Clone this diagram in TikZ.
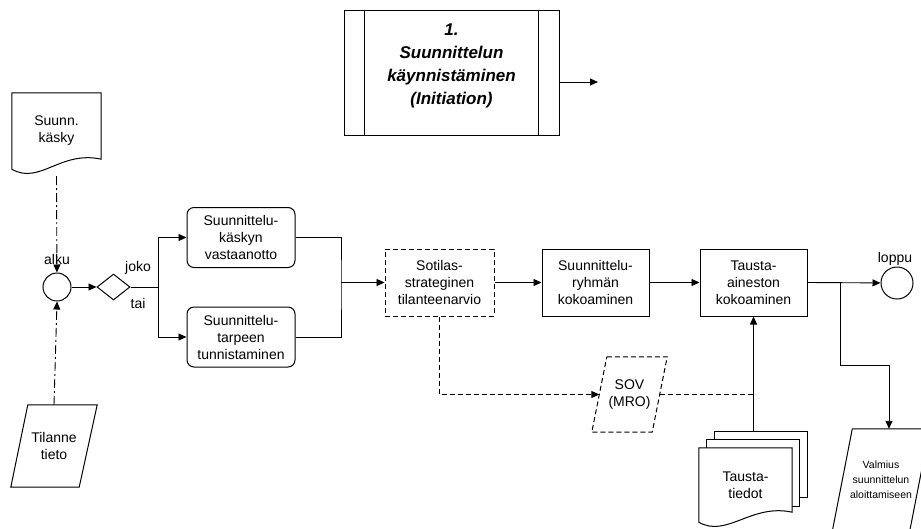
\documentclass[tikz,border=0pt]{standalone}
\usepackage{fontspec}
\setmainfont{Liberation Sans}
\usetikzlibrary{shapes.geometric,arrows.meta,calc}

\begin{document}
\begin{tikzpicture}[x=1pt,y=-1pt,
  txt/.style={align=center,inner sep=0pt,font=\fontsize{14}{17}\selectfont},
  box/.style={txt,rectangle,draw,line width=1pt,minimum width=107,minimum height=67},
  rbox/.style={box,rounded corners=7pt,minimum width=108,minimum height=60},
  dbox/.style={box,dash pattern=on 5pt off 3pt},
  shp/.style={line width=1pt},
  term/.style={circle,draw,line width=1pt,inner sep=0pt},
  conn/.style={line width=0.9pt},
  arr/.style={conn,-{Triangle[length=8pt,width=7pt]}},
  dda/.style={arr,dash pattern=on 9pt off 3pt on 2pt off 3pt},
  dsh/.style={conn,dash pattern=on 5pt off 3pt}]
\useasboundingbox (0,0) rectangle (921,528);
\clip (0,0) rectangle (921,528);
% title process
\node[rectangle,draw,line width=1pt,minimum width=215,minimum height=125] (init) at (451.5,72.5) {};
\node[align=center,font=\fontsize{17}{23}\selectfont\bfseries\itshape] (initt) at (451.5,66) {1.\\Suunnittelun\\käynnistäminen\\(Initiation)};
\draw[shp] ($(init.north west)+(21,0)$) -- ($(init.south west)+(21,0)$);
\draw[shp] ($(init.north east)+(-21,0)$) -- ($(init.south east)+(-21,0)$);
\coordinate (initout) at (598,82);
\draw[arr] (initout -| init.east) -- (initout);
% inputs
\node[txt,minimum width=89,minimum height=76] (kasky) at (56.5,131) {Suunn.\\käsky};
\draw[shp] (kasky.north west) -- (kasky.north east) -- ($(kasky.south east)+(0,-10)$) .. controls +(-41,-9) and +(28,16) .. (kasky.south west) -- cycle;
\node[txt,minimum width=86,minimum height=82] (tilanne) at (54,446) {Tilanne\\tieto};
\draw[shp] ($(tilanne.north west)+(17,0)$) -- (tilanne.north east) -- ($(tilanne.south east)+(-18,0)$) -- (tilanne.south west) -- cycle;
% start, branch
\node[term,minimum size=28] (alku) at (57,287) {};
\node[txt] (alkut) at (57,259) {alku};
\node[diamond,draw,line width=1pt,inner sep=0pt,minimum width=33,minimum height=26] (dia) at (113.5,287) {};
\node[txt] (joko) at (138,268) {joko};
\node[txt] (tai) at (138,303) {tai};
\coordinate (split) at (158,287);
\node[rbox] (b1) at (241,237.5) {Suunnittelu-\\käskyn\\vastaanotto};
\node[rbox] (b2) at (241,337) {Suunnittelu-\\tarpeen\\tunnistaminen};
\coordinate (merge) at (341,282.5);
% main row
\node[dbox,minimum width=109] (sot) at (439.5,282.5) {Sotilas-\\strateginen\\tilanteenarvio};
\node[box] (ryh) at (595.5,282.5) {Suunnittelu-\\ryhmän\\kokoaminen};
\node[box] (taus) at (753.5,282.5) {Tausta-\\aineston\\kokoaminen};
\node[term,minimum size=32] (loppu) at (897,283) {};
\node[txt] (lopput) at (895,259) {loppu};
% SOV
\node[txt,minimum width=75,minimum height=75] (sov) at (629.5,394.5) {SOV\\(MRO)};
\draw[shp,dash pattern=on 5pt off 3pt] ($(sov.north west)+(15,0)$) -- (sov.north east) -- ($(sov.south east)+(-15,0)$) -- (sov.south west) -- cycle;
% documents
\node[txt,minimum width=93,minimum height=74] (td) at (745.5,485) {Tausta-\\tiedot};
\draw[shp] ($(td.north west)+(16,-8)$) -- ++(0,-8) -- ++(93,0) -- ++(0,66) -- ++(-8,0);
\draw[shp] ($(td.north west)+(8,0)$) -- ++(0,-8) -- ++(93,0) -- ++(0,67) -- ++(-8,0);
\draw[shp] (td.north west) -- (td.north east) -- ($(td.south east)+(0,-10)$) .. controls +(-41,-9) and +(28,16) .. (td.south west) -- cycle;
\coordinate (tdtop) at ($(td.north)+(8,-16)$);
% result
\node[txt,font=\fontsize{10.5}{15}\selectfont,minimum width=97,minimum height=102] (valm) at (881,480) {Valmius\\suunnittelun\\aloittamiseen};
\draw[shp] ($(valm.north west)+(20,0)$) -- (valm.north east) -- ($(valm.south east)+(-20,0)$) -- (valm.south west) -- cycle;
\coordinate (hp) at (840,282.5);
\coordinate (hq) at (889,365);
% connectors
\draw[dda] ($(kasky.south)+(0,7)$) -- (alku);
\draw[dda] (tilanne.north) -- (alku.south);
\draw[arr] (alku) -- (dia);
\draw[conn] (dia.east) -- (split);
\draw[arr] (split) |- (b1.west);
\draw[arr] (split) |- (b2.west);
\draw[conn] (b1.east) -| (merge) |- (b2.east);
\draw[arr] (merge) -- (sot.west);
\draw[arr] (sot) -- (ryh);
\draw[arr] (ryh) -- (taus);
\draw[arr] (taus.east) -- (loppu);
\draw[arr] (hp) |- (hq) -- (hq |- valm.north);
\draw[dsh,-{Triangle[length=8pt,width=7pt]}] (sot.south) |- ($(sov.west)+(7.5,0)$);
\draw[dsh] ($(sov.east)+(-7.5,0)$) -- (sov.east -| taus.south);
\draw[arr] (tdtop) -- (taus.south);
\end{tikzpicture}
\end{document}
